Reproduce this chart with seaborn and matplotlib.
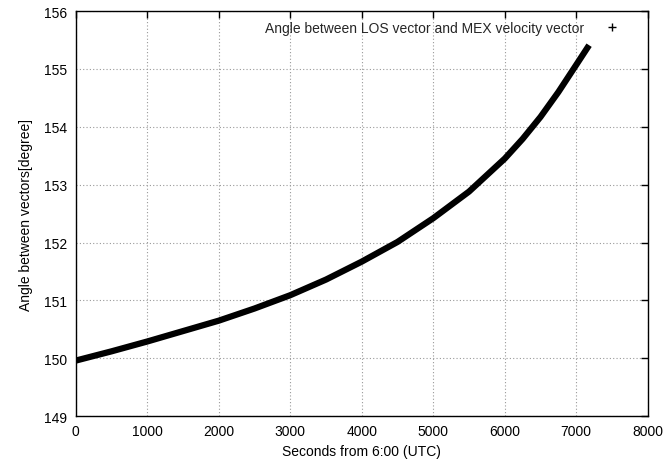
import matplotlib
matplotlib.use("Agg")
import matplotlib.pyplot as plt
from matplotlib.lines import Line2D
import seaborn as sns
import pandas as pd

seconds = [0, 500, 1000, 1500, 2000, 2500, 3000, 3500, 4000, 4500, 5000, 5500,
           6000, 6250, 6500, 6750, 7000, 7180]
angle = [149.96, 150.12, 150.29, 150.47, 150.65, 150.86, 151.09, 151.36, 151.67, 152.01,
         152.42, 152.88, 153.45, 153.79, 154.17, 154.60, 155.07, 155.41]
series_label = "Angle between LOS vector and MEX velocity vector"
x_ticks = [0, 1000, 2000, 3000, 4000, 5000, 6000, 7000, 8000]
y_ticks = [149, 150, 151, 152, 153, 154, 155, 156]

df = pd.DataFrame({"seconds": seconds, "angle": angle})

sns.set_theme(style="white")
plt.rcParams["font.family"] = ["Liberation Sans", "DejaVu Sans"]

fig, ax = plt.subplots(figsize=(6.65, 4.64), dpi=100)
fig.subplots_adjust(left=0.114, right=0.974, top=0.974, bottom=0.101)

sns.lineplot(data=df, x="seconds", y="angle", ax=ax, color="black",
             linewidth=4.5, solid_capstyle="butt", solid_joinstyle="round", legend=False)

ax.set_xlim(0, 8000)
ax.set_ylim(149, 156)
ax.set_xticks(x_ticks)
ax.set_yticks(y_ticks)
ax.tick_params(axis="both", which="major", direction="in", length=5, width=1,
               top=True, right=True, labelsize=10, colors="black", pad=6)
ax.grid(True, color="#999999", linestyle=(0, (1, 2)), linewidth=0.8)
for s in ax.spines.values():
    s.set_color("black")
    s.set_linewidth(1)

ax.set_xlabel("Seconds from 6:00 (UTC)", fontsize=10, color="black", labelpad=4)
ax.set_ylabel("Angle between vectors[degree]", fontsize=10, color="black", labelpad=8)

handle = Line2D([], [], color="black", marker="+", linestyle="none", markersize=6, markeredgewidth=1)
ax.legend([handle], [series_label], loc="upper right", bbox_to_anchor=(0.972, 1.0),
          frameon=False, markerfirst=False, fontsize=10, handletextpad=1.2,
          borderaxespad=0.3, handlelength=1.5)

fig.savefig("out.png", dpi=100)
